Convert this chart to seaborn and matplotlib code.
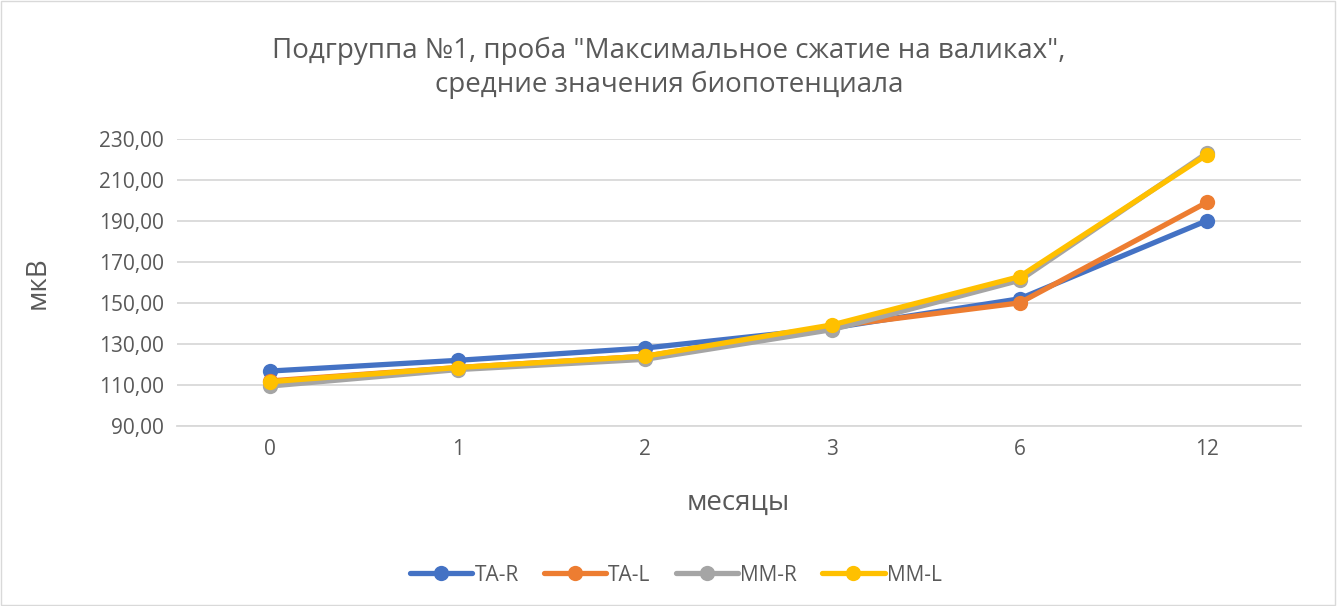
import pandas as pd
import matplotlib.pyplot as plt
import seaborn as sns
from matplotlib.ticker import FuncFormatter
from matplotlib.patches import Rectangle

months = ['0', '1', '2', '3', '6', '12']
ta_r = [116.8, 122.0, 128.0, 137.8, 152.0, 190.1]
ta_l = [112.0, 118.5, 124.0, 138.5, 150.0, 199.0]
mm_r = [109.5, 117.5, 122.5, 137.0, 161.0, 223.0]
mm_l = [111.6, 118.5, 124.0, 139.3, 162.8, 222.2]
series_names = ['TA-R', 'TA-L', 'MM-R', 'MM-L']
colors = ['#4472C4', '#ED7D31', '#A5A5A5', '#FFC000']

df = pd.DataFrame({'месяцы': months * 4,
                   'мкВ': ta_r + ta_l + mm_r + mm_l,
                   'series': [s for s in series_names for _ in months]})

sns.set_style('white')
plt.rcParams['font.family'] = ['Open Sans', 'DejaVu Sans']
text_col = '#595959'

fig = plt.figure(figsize=(13.38, 6.06), dpi=100)
ax = fig.add_axes([0.132, 0.297, 0.840, 0.474])

sns.lineplot(data=df, x='месяцы', y='мкВ', hue='series', palette=colors,
             marker='o', markersize=11, markeredgewidth=0, linewidth=3.8,
             sort=False, ax=ax, legend=False)

ax.set_xlim(-0.5, 5.5)
ax.set_ylim(90, 230)
ax.set_yticks(range(90, 231, 20))
ax.yaxis.set_major_formatter(FuncFormatter(lambda v, p: f'{v:.2f}'.replace('.', ',')))
ax.grid(axis='y', color='#D9D9D9', linewidth=1.3)
ax.set_axisbelow(True)
for s in ['top', 'right', 'left']:
    ax.spines[s].set_visible(False)
ax.spines['bottom'].set_color('#D9D9D9')
ax.spines['bottom'].set_linewidth(1.3)
ax.tick_params(axis='both', length=0, labelsize=15, colors=text_col, pad=9)

ax.set_xlabel('месяцы', fontsize=20, color=text_col, labelpad=21)
ax.set_ylabel('мкВ', fontsize=20, color=text_col, labelpad=34)
fig.text(0.5, 0.888, 'Подгруппа №1, проба "Максимальное сжатие на валиках",\nсредние значения биопотенциала',
         ha='center', va='center', fontsize=20, color=text_col, linespacing=1.3)

handles = [plt.Line2D([], [], color=c, linewidth=3.8, marker='o', markersize=11,
                      markeredgewidth=0) for c in colors]
fig.legend(handles, series_names, loc='center', bbox_to_anchor=(0.505, 0.051), ncol=4,
           frameon=False, fontsize=15, handlelength=3.0, columnspacing=1.2,
           handletextpad=0.1, labelcolor=text_col)

fig.patches.append(Rectangle((0.001, 0.002), 0.997, 0.996, transform=fig.transFigure,
                             fill=False, edgecolor='#D9D9D9', linewidth=1))

fig.savefig('out.png', dpi=100)
